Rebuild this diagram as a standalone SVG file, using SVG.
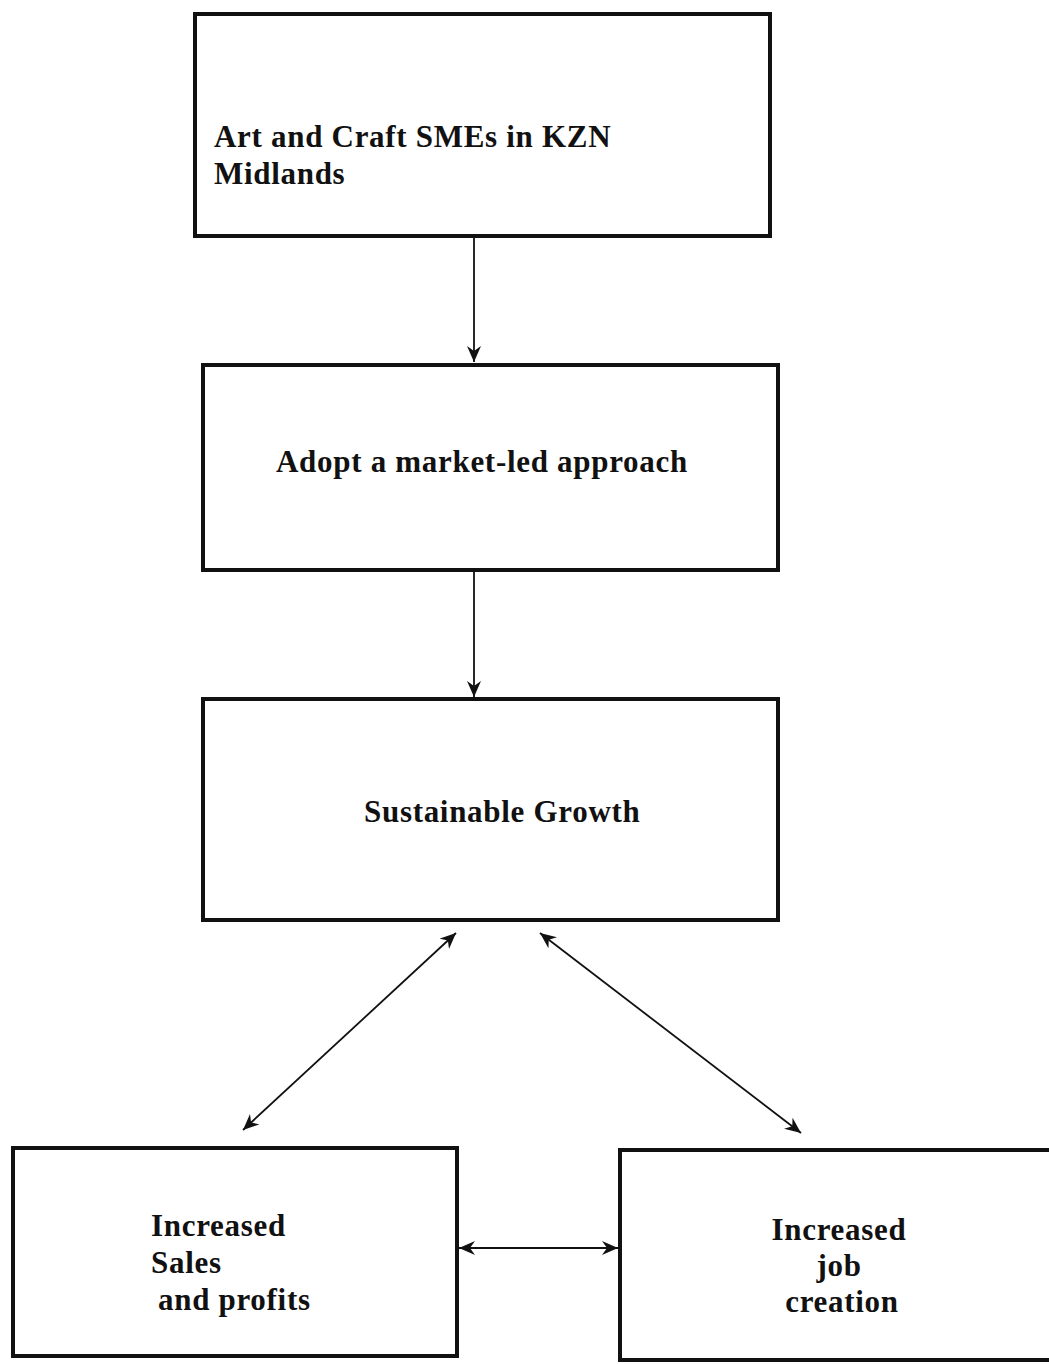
<svg xmlns="http://www.w3.org/2000/svg" width="1049" height="1364" viewBox="0 0 1049 1364">
<style>
.box{fill:#fff;stroke:#111;stroke-width:4}
.t{font-family:"Liberation Serif","Times New Roman",serif;font-weight:bold;font-size:31px;fill:#111;letter-spacing:0.7px}
.c{stroke:#111;stroke-width:1.8;fill:none}
</style>
<defs>
<marker id="ah" viewBox="0 0 16 14" refX="16" refY="7" markerWidth="16" markerHeight="14" markerUnits="userSpaceOnUse" orient="auto-start-reverse">
<path d="M0,0 L16,7 L0,14 L5,7 Z" fill="#111"/>
</marker>
</defs>
<rect width="1049" height="1364" fill="#fff"/>
<g id="node-sme">
<rect class="box" x="195" y="14" width="575" height="222"/>
<text class="t" x="214" y="147">Art and Craft SMEs in KZN</text>
<text class="t" x="214" y="184">Midlands</text>
</g>
<g id="node-approach">
<rect class="box" x="203" y="365" width="575" height="205"/>
<text class="t" x="276" y="472">Adopt a market-led approach</text>
</g>
<g id="node-growth">
<rect class="box" x="203" y="699" width="575" height="221"/>
<text class="t" x="364" y="822">Sustainable Growth</text>
</g>
<g id="node-sales">
<rect class="box" x="13" y="1148" width="444" height="208"/>
<text class="t" x="151" y="1236">Increased</text>
<text class="t" x="151" y="1273">Sales</text>
<text class="t" x="158" y="1310">and profits</text>
</g>
<g id="node-jobs">
<rect class="box" x="620" y="1150" width="440" height="210"/>
<text class="t" x="839" y="1240" text-anchor="middle">Increased</text>
<text class="t" x="839" y="1276" text-anchor="middle">job</text>
<text class="t" x="842" y="1312" text-anchor="middle">creation</text>
</g>
<g id="connectors">
<line class="c" x1="474" y1="236" x2="474" y2="362" marker-end="url(#ah)"/>
<line class="c" x1="474" y1="570" x2="474" y2="697" marker-end="url(#ah)"/>
<line class="c" x1="243" y1="1130" x2="456" y2="933" marker-start="url(#ah)" marker-end="url(#ah)"/>
<line class="c" x1="540" y1="933" x2="801" y2="1133" marker-start="url(#ah)" marker-end="url(#ah)"/>
<line class="c" x1="459" y1="1248" x2="618" y2="1248" marker-start="url(#ah)" marker-end="url(#ah)"/>
</g>
</svg>
